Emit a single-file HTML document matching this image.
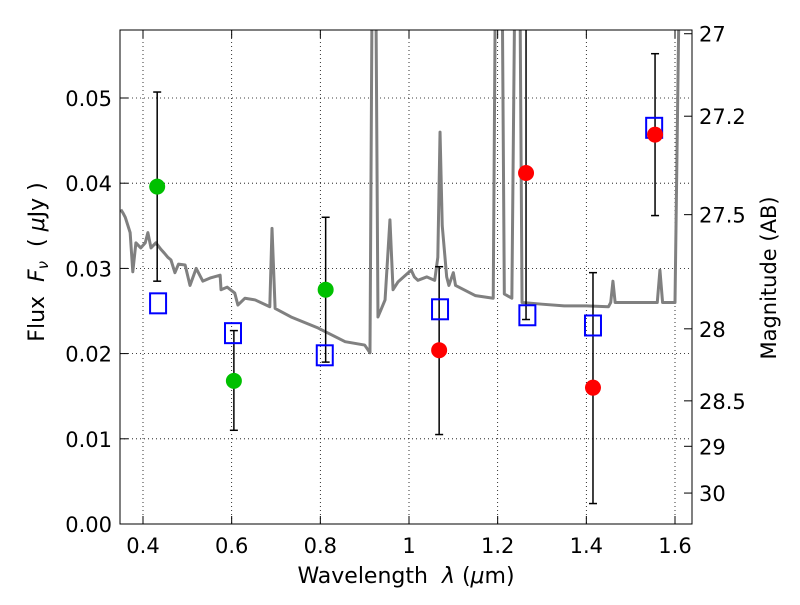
<!DOCTYPE html>
<html><head><meta charset="utf-8">
<style>
body{margin:0;background:#fff;}
svg text{font-family:"DejaVu Sans","Liberation Sans",sans-serif;fill:#000;}
</style></head>
<body>
<svg id="chart" width="800" height="600" xmlns="http://www.w3.org/2000/svg">
<defs><clipPath id="clip"><rect x="120" y="30" width="572" height="494"/></clipPath></defs>
<g id="grid"></g>
<g id="spec" clip-path="url(#clip)"></g>
<g id="marks" clip-path="url(#clip)"></g>
<rect x="120" y="30" width="572" height="494" fill="none" stroke="#000" stroke-width="1"/>
<g id="axes"></g>
<text x="406" y="583" font-size="22" text-anchor="middle">Wavelength&#160;&#160;<tspan font-style="italic">λ</tspan> (<tspan font-style="italic">μ</tspan>m)</text>
<text transform="translate(44,262) rotate(-90)" font-size="22" text-anchor="middle">Flux&#160;&#160;<tspan font-style="italic">F<tspan font-size="15" dy="4">ν</tspan></tspan><tspan dy="-4">&#160;&#160;( </tspan><tspan font-style="italic">μ</tspan>Jy )</text>
<text transform="translate(776,278) rotate(-90)" font-size="21" text-anchor="middle">Magnitude (AB)</text>
</svg>
<script>
const xTicks=[0.4,0.6,0.8,1.0,1.2,1.4,1.6];
const xTickLabels=["0.4","0.6","0.8","1","1.2","1.4","1.6"];
const yTicks=[0,0.01,0.02,0.03,0.04,0.05];
const yTickLabels=["0.00","0.01","0.02","0.03","0.04","0.05"];
const magTicks=[27,27.2,27.5,28,28.5,29,30];
const magTickLabels=["27","27.2","27.5","28","28.5","29","30"];
const specX=[0.35,0.355,0.36,0.371,0.377,0.384,0.395,0.405,0.411,0.418,0.429,0.441,0.448,0.456,0.463,0.472,0.48,0.495,0.506,0.52,0.535,0.553,0.574,0.576,0.59,0.607,0.614,0.63,0.653,0.686,0.691,0.698,0.734,0.795,0.856,0.90,0.912,0.917,0.925,0.93,0.946,0.957,0.964,0.975,1.005,1.012,1.02,1.04,1.058,1.065,1.07,1.075,1.085,1.09,1.10,1.105,1.15,1.19,1.195,1.21,1.215,1.232,1.239,1.25,1.255,1.3,1.35,1.40,1.45,1.455,1.46,1.465,1.555,1.56,1.566,1.572,1.60,1.61,1.65];
const specY=[0.0369,0.0365,0.036,0.0342,0.0296,0.033,0.0324,0.033,0.0342,0.0324,0.033,0.0322,0.0318,0.0313,0.031,0.0295,0.0305,0.0304,0.028,0.030,0.0285,0.0289,0.0292,0.0275,0.0278,0.0271,0.0257,0.0265,0.0263,0.0255,0.0347,0.0253,0.0243,0.023,0.0214,0.021,0.0201,0.065,0.065,0.0243,0.0263,0.0357,0.0275,0.0284,0.0298,0.029,0.0286,0.029,0.0286,0.0313,0.046,0.035,0.029,0.028,0.0295,0.028,0.0268,0.0265,0.065,0.065,0.027,0.0265,0.065,0.065,0.026,0.0258,0.0256,0.0256,0.0255,0.026,0.0285,0.026,0.026,0.026,0.0298,0.026,0.026,0.065,0.065];
const greenX=[0.432,0.605,0.812];
const greenY=[0.0396,0.0168,0.0275];
const greenLo=[0.0285,0.011,0.019];
const greenHi=[0.0507,0.0227,0.036];
const redX=[1.068,1.264,1.415,1.555];
const redY=[0.0204,0.0412,0.016,0.0457];
const redLo=[0.0105,0.024,0.0024,0.0362];
const redHi=[0.0302,0.07,0.0295,0.0552];
const modelX=[0.434,0.603,0.81,1.07,1.267,1.415,1.553];
const modelY=[0.0259,0.0224,0.0198,0.0252,0.0245,0.0233,0.0465];

const NS="http://www.w3.org/2000/svg";
const X0=0.4,XP0=143,XS=(675-143)/1.2;
const sx=v=>XP0+(v-X0)*XS;
const sy=v=>524-v*8520;
const magToFlux=m=>Math.pow(10,(23.9-m)/2.5);
function mk(tag,attrs,parent){const e=document.createElementNS(NS,tag);for(const k in attrs)e.setAttribute(k,attrs[k]);parent.appendChild(e);return e;}
const grid=document.getElementById('grid'),axes=document.getElementById('axes'),spec=document.getElementById('spec'),marks=document.getElementById('marks');
xTicks.forEach((t,i)=>{const x=sx(t);
 const g=mk('line',{x1:x,x2:x,y1:30,y2:524,stroke:'#000','stroke-dasharray':'1,3','stroke-width':0.8},grid);
 
 
 mk('line',{x1:x,x2:x,y1:524,y2:516,stroke:'#000'},axes);
 mk('line',{x1:x,x2:x,y1:30,y2:38,stroke:'#000'},axes);
 const tx=mk('text',{x:x,y:553,'font-size':21,'text-anchor':'middle'},axes);tx.textContent=xTickLabels[i];
 
 
});
yTicks.forEach((t,i)=>{const y=sy(t);
 const g=mk('line',{x1:120,x2:692,y1:y,y2:y,stroke:'#000','stroke-dasharray':'1,3','stroke-width':0.8},grid);
 
 
 mk('line',{x1:120,x2:128,y1:y,y2:y,stroke:'#000'},axes);
 const tx=mk('text',{x:112,y:y+8,'font-size':21,'text-anchor':'end'},axes);tx.textContent=yTickLabels[i];
 
 
});
magTicks.forEach((m,i)=>{const y=sy(magToFlux(m));
 mk('line',{x1:684,x2:692,y1:y,y2:y,stroke:'#000'},axes);
 const tx=mk('text',{x:699,y:y+8,'font-size':21},axes);tx.textContent=magTickLabels[i];
 
 
});
const pl=mk('polyline',{points:specX.map((x,i)=>sx(x)+','+sy(specY[i])).join(' '),fill:'none',stroke:'#808080','stroke-width':3,'stroke-linejoin':'round'},spec);


function errbar(x,lo,hi){const X=sx(x);
 mk('line',{x1:X,x2:X,y1:sy(lo),y2:sy(hi),stroke:'#000','stroke-width':1.5},marks);
 mk('line',{x1:X-4,x2:X+4,y1:sy(lo),y2:sy(lo),stroke:'#000','stroke-width':1.5},marks);
 mk('line',{x1:X-4,x2:X+4,y1:sy(hi),y2:sy(hi),stroke:'#000','stroke-width':1.5},marks);}
greenX.forEach((x,i)=>errbar(x,greenLo[i],greenHi[i]));
redX.forEach((x,i)=>errbar(x,redLo[i],redHi[i]));
modelX.forEach((x,i)=>{const r=mk('rect',{x:sx(x)-8,y:sy(modelY[i])-10,width:16,height:20,fill:'none',stroke:'#0000ff','stroke-width':2},marks);
 
 });
greenX.forEach((x,i)=>{const c=mk('circle',{cx:sx(x),cy:sy(greenY[i]),r:8,fill:'#00c000'},marks);
 
 });
redX.forEach((x,i)=>{const c=mk('circle',{cx:sx(x),cy:sy(redY[i]),r:8,fill:'#ff0000'},marks);
 
 });
</script>
</body></html>
